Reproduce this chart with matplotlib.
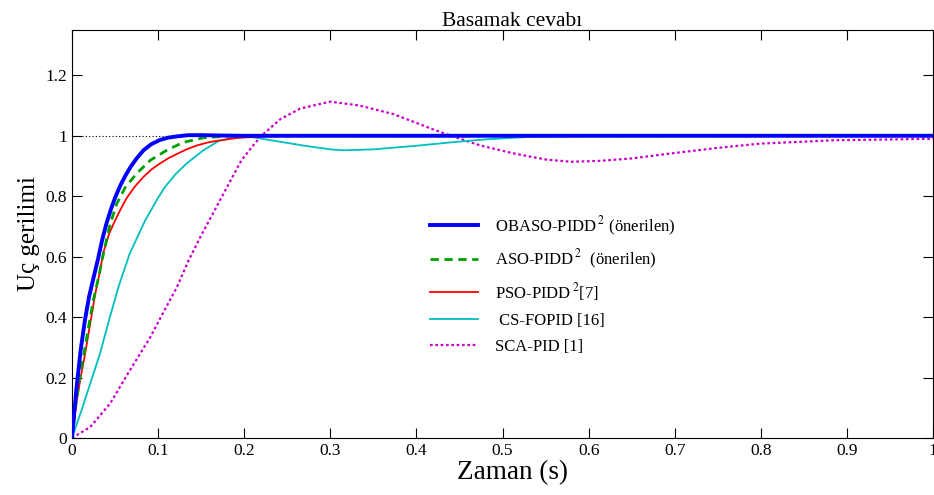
import matplotlib
matplotlib.use("Agg")
import matplotlib.pyplot as plt
from matplotlib.ticker import FormatStrFormatter

plt.rcParams["font.family"] = ["Liberation Serif", "DejaVu Serif"]
plt.rcParams["mathtext.fontset"] = "stix"

# OBASO-PIDD^2 (proposed)
t_obaso = [0, 0.005, 0.010, 0.015, 0.020, 0.025, 0.030, 0.035, 0.040, 0.045, 0.050,
           0.056, 0.062, 0.068, 0.075, 0.083, 0.092, 0.102, 0.112, 0.122, 0.135,
           0.15, 0.17, 0.2, 0.3, 0.5, 0.7, 1.0]
v_obaso = [0, 0.16, 0.29, 0.39, 0.47, 0.53, 0.59, 0.655, 0.71, 0.755, 0.795,
           0.835, 0.868, 0.897, 0.925, 0.952, 0.972, 0.986, 0.994, 0.998, 1.002,
           1.002, 1.001, 1.0, 1.0, 1.0, 1.0, 1.0]

# ASO-PIDD^2 (proposed)
t_aso = [0, 0.005, 0.010, 0.014, 0.020, 0.025, 0.031, 0.035, 0.040, 0.044, 0.052,
         0.062, 0.075, 0.091, 0.110, 0.129, 0.152, 0.18, 0.22, 0.3, 0.5, 1.0]
v_aso = [0, 0.12, 0.22, 0.28, 0.38, 0.46, 0.533, 0.59, 0.655, 0.705, 0.7755,
         0.83, 0.875, 0.919, 0.952, 0.978, 0.993, 0.999, 1.0, 1.0, 1.0, 1.0]

# PSO-PIDD^2 [7]
t_pso = [0, 0.005, 0.010, 0.015, 0.020, 0.027, 0.032, 0.036, 0.043, 0.050, 0.057,
         0.064, 0.073, 0.083, 0.092, 0.102, 0.112, 0.122, 0.133, 0.145, 0.158,
         0.172, 0.19, 0.203, 0.23, 0.3, 0.5, 1.0]
v_pso = [0, 0.115, 0.2, 0.275, 0.36, 0.477, 0.545, 0.61, 0.675, 0.72, 0.76,
         0.796, 0.832, 0.864, 0.888, 0.908, 0.926, 0.94, 0.955, 0.968, 0.978,
         0.985, 0.992, 0.995, 0.998, 1.0, 1.0, 1.0]

# CS-FOPID [16]
t_cs = [0, 0.011, 0.02, 0.0325, 0.043, 0.054, 0.067, 0.085, 0.1, 0.108, 0.12,
        0.133, 0.1525, 0.17, 0.19, 0.21, 0.24, 0.27, 0.3, 0.315, 0.35, 0.4,
        0.443, 0.48, 0.53, 0.6, 0.7, 1.0]
v_cs = [0, 0.091, 0.17, 0.279, 0.39, 0.5, 0.61, 0.72, 0.795, 0.8305, 0.872,
        0.908, 0.952, 0.982, 0.996, 0.995, 0.981, 0.967, 0.955, 0.952, 0.955, 0.967,
        0.979, 0.988, 0.996, 0.999, 1.0, 1.0]

# SCA-PID [1]
t_sca = [0, 0.021, 0.044, 0.067, 0.091, 0.105, 0.122, 0.135, 0.149, 0.165, 0.180,
         0.197, 0.211, 0.22, 0.242, 0.265, 0.30, 0.334, 0.373, 0.427, 0.474,
         0.512, 0.551, 0.58, 0.613, 0.65, 0.691, 0.75, 0.799, 0.884, 1.0]
v_sca = [0, 0.036, 0.113, 0.223, 0.334, 0.41, 0.5, 0.585, 0.665, 0.75, 0.83,
         0.92, 0.97, 1.0, 1.055, 1.09, 1.113, 1.10, 1.072, 1.013, 0.968,
         0.942, 0.921, 0.914, 0.917, 0.925, 0.94, 0.96, 0.974, 0.985, 0.99]

x_ticks = [0, 0.1, 0.2, 0.3, 0.4, 0.5, 0.6, 0.7, 0.8, 0.9, 1.0]
y_ticks = [0, 0.2, 0.4, 0.6, 0.8, 1.0, 1.2]

fig = plt.figure(figsize=(9.34, 4.95), dpi=100)
ax = fig.add_axes([0.0771, 0.1152, 0.9219, 0.8242])

ax.axhline(1.0, color="black", linestyle=(0, (1, 2)), linewidth=0.8, zorder=1)
ax.plot(t_sca, v_sca, color="#cc00cc", linestyle=(0, (1.2, 1.2)), linewidth=1.6,
        label="SCA-PID [1]", zorder=2)
ax.plot(t_cs, v_cs, color="#00bfbf", linewidth=1.3, label=" CS-FOPID [16]", zorder=3)
ax.plot(t_pso, v_pso, color="#ff0000", linewidth=1.3,
        label="PSO-PIDD$\\,^{2}$[7]", zorder=4)
ax.plot(t_aso, v_aso, color="#00a000", linestyle=(0, (3, 2)), linewidth=2.0,
        label="ASO-PIDD$\\,^{2}$  (önerilen)", zorder=5)
ax.plot(t_obaso, v_obaso, color="#0000ff", linewidth=2.8,
        label="OBASO-PIDD$\\,^{2}$ (önerilen)", zorder=6)

ax.set_xlim(0, 1)
ax.set_ylim(0, 1.35)
ax.set_xticks(x_ticks)
ax.set_yticks(y_ticks)
ax.xaxis.set_major_formatter(FormatStrFormatter("%g"))
ax.yaxis.set_major_formatter(FormatStrFormatter("%g"))
ax.tick_params(direction="in", top=True, right=True, length=7, labelsize=12.5)

ax.set_title("Basamak cevabı", fontsize=15.5, pad=3, x=0.511)
ax.set_xlabel("Zaman (s)", fontsize=19.5, labelpad=0)
ax.xaxis.set_label_coords(0.511, -0.055, transform=ax.transAxes)
ax.xaxis.label.set_va("top")
ax.set_ylabel("Uç gerilimi", fontsize=18, labelpad=4)

handles, labels = ax.get_legend_handles_labels()
ax.legend(handles[::-1], labels[::-1], loc="upper left",
          bbox_to_anchor=(0.398, 0.585), frameon=False, fontsize=12,
          handlelength=2.9, handletextpad=1.0, labelspacing=0.6)

fig.savefig("out.png", dpi=100)
